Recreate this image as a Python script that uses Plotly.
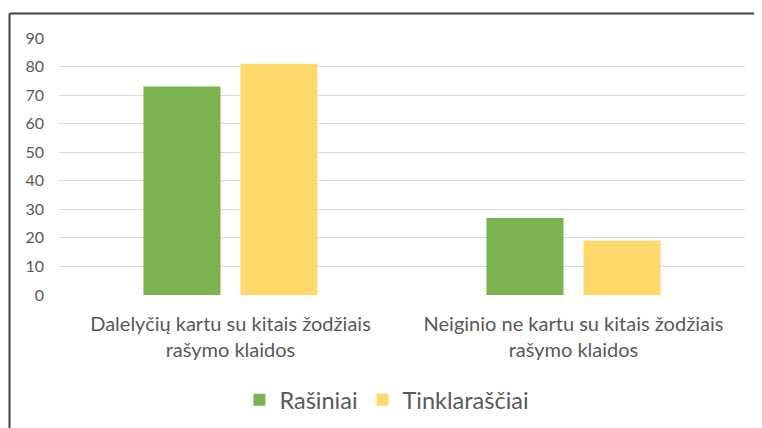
import plotly.graph_objects as go

categories = ["Dalelyčių kartu su kitais žodžiais<br>rašymo klaidos",
              "Neiginio ne kartu su kitais žodžiais<br>rašymo klaidos"]
rasiniai = [73, 27]
tinklarasciai = [81, 19]
series_names = ["Rašiniai", "Tinklaraščiai"]
tick_vals = [0, 10, 20, 30, 40, 50, 60, 70, 80, 90]

OFF = 8  # default page body margin
W, H = 762 - OFF, 428 - OFF
L, R, T, B = 59 - OFF, 17, 38 - OFF, 133
pw, ph = W - L - R, H - T - B

fig = go.Figure()
fig.add_trace(go.Bar(x=categories, y=rasiniai, name=series_names[0],
                     marker=dict(color="#7AB350", line=dict(width=0))))
fig.add_trace(go.Bar(x=categories, y=tinklarasciai, name=series_names[1],
                     marker=dict(color="#FFD96C", line=dict(width=0))))

font = "Lato, 'Open Sans', sans-serif"
fig.update_layout(
    width=W, height=H,
    margin=dict(l=L, r=R, t=T, b=B, autoexpand=False),
    paper_bgcolor="white", plot_bgcolor="white",
    barmode="group", bargap=0.434, bargroupgap=0.206,
    font=dict(family=font, color="#595959"),
    showlegend=True,
    legend=dict(orientation="h", x=0.478, xanchor="center",
                y=(295 - 400) / ph, yanchor="middle",
                font=dict(size=23.5, color="#595959"),
                itemwidth=30, traceorder="normal"),
    xaxis=dict(showgrid=False, showline=False, ticks="",
               tickfont=dict(size=20, color="#595959"),
               ticklabelstandoff=15),
    yaxis=dict(range=[0, 90], tickvals=tick_vals, showgrid=True,
               gridcolor="#D9D9D9", gridwidth=1, zeroline=False,
               showline=False, ticks="",
               tickfont=dict(size=16, color="#595959"),
               ticklabelstandoff=14),
)

# outer chart border (top and left visible)
bx = (9.5 - 59) / pw
by = 1 + (38 - 13.5) / ph
fig.add_shape(type="line", xref="paper", yref="paper",
              x0=bx, x1=1.2, y0=by, y1=by,
              line=dict(color="#404040", width=2))
fig.add_shape(type="line", xref="paper", yref="paper",
              x0=bx, x1=bx, y0=by, y1=-0.7,
              line=dict(color="#404040", width=2))

fig.write_html("out.html")
